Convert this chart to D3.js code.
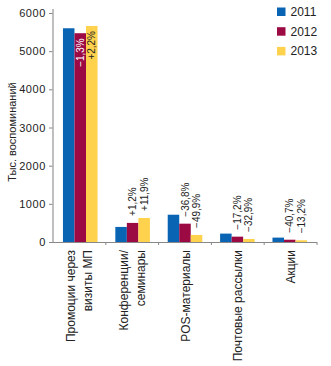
<!DOCTYPE html>
<html><head><meta charset="utf-8">
<script src="https://cdn.jsdelivr.net/npm/d3@7"></script>
<style>body{margin:0;background:#fff}text{font-family:"Liberation Sans",Arial,sans-serif}</style>
</head><body><svg id="c" width="331" height="366"></svg>
<script>
const categories = [["Промоции через","визиты МП"],["Конференции/","семинары"],["POS-материалы"],["Почтовые рассылки"],["Акции"]];
const years = ["2011","2012","2013"];
const v2011 = [5600, 395, 715, 220, 115];
const v2012 = [5470, 500, 480, 140, 60];
const v2013 = [5660, 630, 185, 80, 45];
const pct2012 = ["−1,3%","+1,2%","−36,8%","−17,2%","−40,7%"];
const pct2013 = ["+2,2%","+11,9%","−49,9%","−32,9%","−13,2%"];
const yTicks = [0,1000,2000,3000,4000,5000,6000];
const colors = ["#0a64b4","#9c0a44","#ffd24d"];

const svg = d3.select("#c");
const L=53, R=317, T=13, B=242;
const y = d3.scaleLinear().domain([0,6000]).range([B,T]);
const x0 = d3.scaleBand().domain(d3.range(5)).range([L,R]).paddingInner(0.34).paddingOuter(0.19);
const x1 = d3.scaleBand().domain(years).range([0,x0.bandwidth()]);
const series = [v2011,v2012,v2013];

// y axis
const ya = svg.append("g").attr("transform",`translate(${L},0)`)
  .call(d3.axisLeft(y).tickValues(yTicks).tickFormat(d3.format("d")).tickSize(4).tickPadding(3).tickSizeOuter(0));
ya.select(".domain").remove();
ya.selectAll("line").attr("stroke","#888");
ya.selectAll("text").attr("font-size",11).attr("fill","#222").style("letter-spacing","0.6px");
svg.append("line").attr("x1",L).attr("x2",L).attr("y1",T-4).attr("y2",B).attr("stroke","#aaa").attr("stroke-width",1.5);

// bars
series.forEach((s,si)=>{
  svg.append("g").selectAll("rect").data(s).join("rect")
    .attr("x",(d,i)=>x0(i)+x1(years[si]))
    .attr("width",x1.bandwidth())
    .attr("y",d=>y(d)).attr("height",d=>B-y(d))
    .attr("fill",colors[si]);
});

// x axis
const step = (R-L)/5;
svg.append("line").attr("x1",L).attr("x2",R).attr("y1",B+0.5).attr("y2",B+0.5).attr("stroke","#888");
d3.range(1,6).forEach(i=>{
  svg.append("line").attr("x1",L+i*step).attr("x2",L+i*step).attr("y1",B).attr("y2",B+3).attr("stroke","#888");
});

// category labels
categories.forEach((lines,i)=>{
  const cx = L+step*(i+0.5);
  const g = svg.append("g").attr("transform",`translate(${cx},250) rotate(-90)`);
  const n = lines.length;
  lines.forEach((t,j)=>{
    g.append("text").attr("x",0).attr("y",(j-(n-1)/2)*17+4.5)
      .attr("text-anchor","end").attr("font-size",12).attr("fill","#222").text(t);
  });
});

// percent labels
[[pct2012,v2012,1],[pct2013,v2013,2]].forEach(([labs,vals,si])=>{
  labs.forEach((t,i)=>{
    const cx = x0(i)+x1(years[si])+x1.bandwidth()/2;
    const inside = vals[i] > 3000;
    const ty = inside ? y(vals[i])+5 : y(vals[i])-7;
    svg.append("text").attr("transform",`translate(${cx+3.5},${ty}) rotate(-90)`)
      .attr("text-anchor", inside ? "end" : "start")
      .attr("font-size",10)
      .attr("fill", inside ? (si===1 ? "#fff" : "#222") : "#222")
      .text(t);
  });
});

// y title
svg.append("text").attr("transform","translate(16,132) rotate(-90)")
  .attr("text-anchor","middle").attr("font-size",11).attr("fill","#222").text("Тыс. воспоминаний");

// legend
years.forEach((yr,i)=>{
  const gy = 7.5 + i*19.7;
  svg.append("rect").attr("x",277).attr("y",gy).attr("width",8.5).attr("height",8.5).attr("fill",colors[i]);
  svg.append("text").attr("x",290.5).attr("y",gy+8.5).attr("font-size",12).attr("fill","#222").text(yr);
});
</script></body></html>
